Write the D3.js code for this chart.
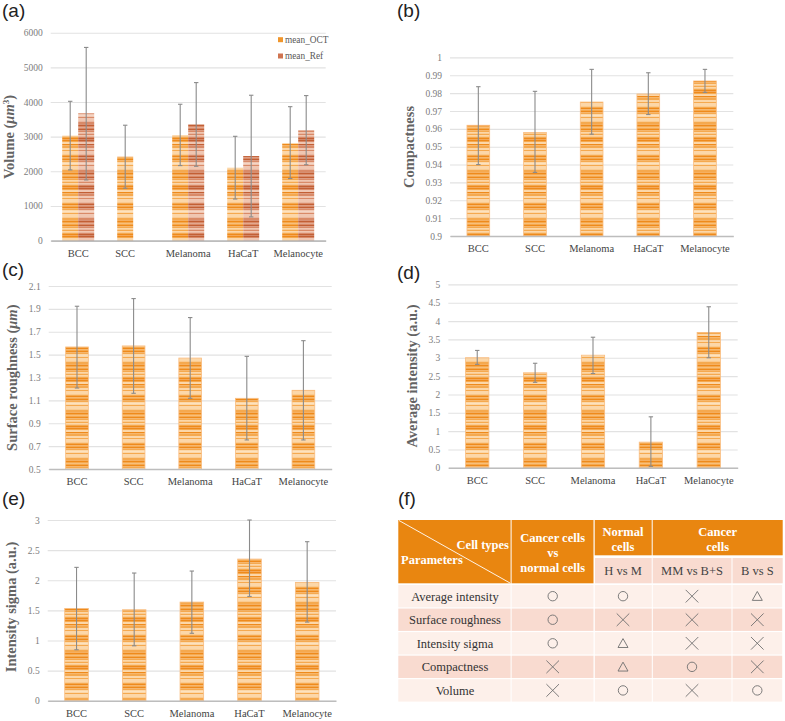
<!DOCTYPE html>
<html>
<head>
<meta charset="utf-8">
<title>Cell parameters</title>
<script src="https://cdn.jsdelivr.net/npm/d3@7"></script>
<style>
	html, body { margin: 0; padding: 0; background: #fff; }
	svg { display: block; }
	text { font-family: "Liberation Serif", serif; }
</style>
</head>
<body>
<svg id="chart" width="785" height="721"></svg>
<script>
const categories = ['BCC', 'SCC', 'Melanoma', 'HaCaT', 'Melanocyte'];

// (a) volume, two series, SCC has no reference value
const volumeOct = [3030, 2420, 3045, 2105, 2815];
const volumeOctHigh = [4020, 3330, 3935, 3010, 3865];
const volumeOctLow = [2040, 1510, 2165, 1200, 1790];
const volumeRef = [3675, null, 3355, 2440, 3185];
const volumeRefHigh = [5575, null, 4560, 4195, 4185];
const volumeRefLow = [1750, null, 2145, 685, 2190];
const volumeTicks = [0, 1000, 2000, 3000, 4000, 5000, 6000];

// (b)
const compactness = [0.962, 0.958, 0.975, 0.9795, 0.9868];
const compactnessHigh = [0.9836, 0.981, 0.9933, 0.9914, 0.9933];
const compactnessLow = [0.94, 0.9356, 0.957, 0.968, 0.9804];
const compactnessTicks = [0.9, 0.91, 0.92, 0.93, 0.94, 0.95, 0.96, 0.97, 0.98, 0.99, 1];

// (c)
const roughness = [1.567, 1.576, 1.47, 1.118, 1.188];
const roughnessHigh = [1.923, 1.99, 1.824, 1.485, 1.622];
const roughnessLow = [1.208, 1.162, 1.118, 0.754, 0.754];
const roughnessTicks = [0.5, 0.7, 0.9, 1.1, 1.3, 1.5, 1.7, 1.9, 2.1];

// (d)
const intensity = [3.0, 2.59, 3.07, 0.7, 3.69];
const intensityHigh = [3.2, 2.85, 3.56, 1.39, 4.39];
const intensityLow = [2.82, 2.33, 2.57, 0.04, 3.0];
const intensityTicks = [0, 0.5, 1, 1.5, 2, 2.5, 3, 3.5, 4, 4.5, 5];

// (e)
const sigma = [1.533, 1.51, 1.638, 2.352, 1.965];
const sigmaHigh = [2.214, 2.12, 2.153, 3.0, 2.64];
const sigmaLow = [0.847, 0.913, 1.12, 1.732, 1.306];
const sigmaTicks = [0, 0.5, 1, 1.5, 2, 2.5, 3];

// (f) o = circle, x = cross, t = triangle
const tableParameters = ['Average intensity', 'Surface roughness', 'Intensity sigma', 'Compactness', 'Volume'];
const tableColumns = ['Cancer vs normal', 'H vs M', 'MM vs B+S', 'B vs S'];
const tableMarks = [
	['o', 'o', 'x', 't'],
	['o', 'x', 'x', 'x'],
	['o', 't', 'x', 'x'],
	['x', 't', 'o', 'x'],
	['x', 'o', 'x', 'o']
];

const svg = d3.select('#chart');
const defs = svg.append('defs');

// stripe rows for the bar fill, 0 = dark, 1 = mid, 2 = pale
const stripeRows = [0, 1, 1, 2, 1, 2, 2, 1, 0, 1, 0, 1, 2, 2, 1, 2, 2, 1, 1, 0, 1, 1, 0, 1, 2, 1, 2, 1, 0, 0, 1, 2];
const stripeHeight = 1.5;

const addStripes = function(id, colors)
{
	const pattern = defs.append('pattern')
		.attr('id', id)
		.attr('patternUnits', 'userSpaceOnUse')
		.attr('width', 4)
		.attr('height', stripeRows.length * stripeHeight);

	pattern.selectAll('rect')
		.data(stripeRows)
		.join('rect')
		.attr('y', (d, i) => i * stripeHeight)
		.attr('width', 4)
		.attr('height', stripeHeight)
		.attr('fill', (d) => colors[d]);
}

addStripes('stripesOct', ['#ee8a1e', '#f5a94f', '#fcd7a8']);
addStripes('stripesRef', ['#c25f36', '#d98a68', '#f0c6b1']);

defs.append('filter')
	.attr('id', 'soft')
	.append('feGaussianBlur')
	.attr('stdDeviation', 0.3);

const drawErrorBars = function(group, x, y, values, highs, lows, offset)
{
	const capHalf = 2.2;
	categories.forEach(function(category, i)
	{
		if(values[i] == null)
		{
			return;
		}

		const cx = x(category) + x.bandwidth() / 2 + offset;
		const g = group.append('g')
			.attr('stroke', '#8b8b8b')
			.attr('stroke-width', 1.1);

		g.append('line').attr('x1', cx).attr('x2', cx).attr('y1', y(highs[i])).attr('y2', y(lows[i]));
		g.append('line').attr('x1', cx - capHalf).attr('x2', cx + capHalf).attr('y1', y(highs[i])).attr('y2', y(highs[i]));
		g.append('line').attr('x1', cx - capHalf).attr('x2', cx + capHalf).attr('y1', y(lows[i])).attr('y2', y(lows[i]));
	});
}

const drawPanel = function(panel)
{
	const y = d3.scaleLinear().domain(panel.domain).range([panel.bottom, panel.top]);
	const x = d3.scaleBand().domain(categories).range([panel.left, panel.right]);
	const group = svg.append('g');

	// grid and tick labels
	const yAxis = group.append('g')
		.attr('transform', `translate(${panel.left},0)`)
		.call(d3.axisLeft(y)
			.tickValues(panel.ticks)
			.tickFormat((d) => String(+d.toFixed(2)))
			.tickSize(-(panel.right - panel.left))
			.tickPadding(8));
	yAxis.select('.domain').remove();
	yAxis.selectAll('line').attr('stroke', '#e2e2e2').attr('stroke-width', 1.1);
	yAxis.selectAll('text')
		.attr('fill', '#7c7c7c')
		.style('font-size', '9.5px');

	// one or two bars per category
	panel.series.forEach(function(series, s)
	{
		const width = panel.barWidth;
		const offset = panel.series.length == 2 ? (s == 0 ? -width : 0) : -width / 2;

		group.selectAll(null)
			.data(categories.filter((c, i) => series.values[i] != null))
			.join('rect')
			.attr('x', (c) => x(c) + x.bandwidth() / 2 + offset)
			.attr('y', (c) => y(series.values[categories.indexOf(c)]))
			.attr('width', width)
			.attr('height', (c) => panel.bottom - y(series.values[categories.indexOf(c)]))
			.attr('fill', `url(#${series.fill})`)
			.attr('filter', 'url(#soft)')
			.attr('stroke', panel.series.length == 2 ? 'none' : '#f9bd80')
			.attr('stroke-width', 0.8);
	});

	// baseline and category labels
	const xAxis = group.append('g')
		.attr('transform', `translate(0,${panel.bottom})`)
		.call(d3.axisBottom(x).tickSize(0).tickPadding(panel.labelGap));
	xAxis.select('.domain').attr('stroke', '#bdbdbd').attr('stroke-width', 1.6);
	xAxis.selectAll('text')
		.attr('fill', '#444')
		.style('font-size', '10.5px');

	// a category with only the first series is labelled under that bar
	if(panel.series.length == 2)
	{
		xAxis.selectAll('.tick')
			.attr('transform', function(c)
			{
				const missing = panel.series[1].values[categories.indexOf(c)] == null;
				return `translate(${x(c) + x.bandwidth() / 2 - (missing ? panel.barWidth / 2 : 0)},0)`;
			});
	}

	panel.series.forEach(function(series, s)
	{
		const width = panel.barWidth;
		const offset = panel.series.length == 2 ? (s == 0 ? -width / 2 : width / 2) : 0;
		drawErrorBars(group, x, y, series.values, series.high, series.low, offset);
	});

	// axis title
	const title = group.append('text')
		.attr('transform', `translate(${panel.titleX},${panel.titleY}) rotate(-90)`)
		.attr('text-anchor', 'middle')
		.attr('fill', '#636363')
		.style('font-size', '14.5px')
		.style('font-weight', 'bold');
	panel.title.forEach(function(part)
	{
		title.append('tspan')
			.text(part.text)
			.style('font-style', part.italic ? 'italic' : 'normal')
			.style('font-size', part.sup ? '9px' : null)
			.attr('dy', part.sup ? -5 : (part.afterSup ? 5 : null));
	});

	group.append('text')
		.attr('x', panel.tagX)
		.attr('y', panel.tagY)
		.attr('fill', '#222')
		.style('font-family', '"Liberation Sans", sans-serif')
		.style('font-size', '19px')
		.text(panel.tag);
}

const panels = [
	{
		tag: '(a)', tagX: 2, tagY: 17,
		left: 50.7, right: 325.7, top: 32.7, bottom: 240.6, barWidth: 16, labelGap: 9,
		domain: [0, 6000], ticks: volumeTicks,
		titleX: 13.5, titleY: 137,
		title: [{text: 'Volume ('}, {text: 'μm', italic: true}, {text: '3', sup: true}, {text: ')', afterSup: true}],
		series: [
			{values: volumeOct, high: volumeOctHigh, low: volumeOctLow, fill: 'stripesOct'},
			{values: volumeRef, high: volumeRefHigh, low: volumeRefLow, fill: 'stripesRef'}
		]
	},
	{
		tag: '(b)', tagX: 397, tagY: 17,
		left: 450, right: 733.3, top: 57.4, bottom: 236, barWidth: 22.7, labelGap: 9,
		domain: [0.9, 1], ticks: compactnessTicks,
		titleX: 414, titleY: 147,
		title: [{text: 'Compactness'}],
		series: [{values: compactness, high: compactnessHigh, low: compactnessLow, fill: 'stripesOct'}]
	},
	{
		tag: '(c)', tagX: 2, tagY: 276,
		left: 48.7, right: 331.7, top: 286, bottom: 469, barWidth: 22.7, labelGap: 9,
		domain: [0.5, 2.1], ticks: roughnessTicks,
		titleX: 17, titleY: 377.7,
		title: [{text: 'Surface roughness ('}, {text: 'μm', italic: true}, {text: ')'}],
		series: [{values: roughness, high: roughnessHigh, low: roughnessLow, fill: 'stripesOct'}]
	},
	{
		tag: '(d)', tagX: 397, tagY: 279,
		left: 448.3, right: 737.7, top: 284.4, bottom: 467.8, barWidth: 23.3, labelGap: 9,
		domain: [0, 5], ticks: intensityTicks,
		titleX: 417, titleY: 376,
		title: [{text: 'Average intensity (a.u.)'}],
		series: [{values: intensity, high: intensityHigh, low: intensityLow, fill: 'stripesOct'}]
	},
	{
		tag: '(e)', tagX: 2, tagY: 505,
		left: 47.7, right: 336, top: 520, bottom: 700.8, barWidth: 23.6, labelGap: 9,
		domain: [0, 3], ticks: sigmaTicks,
		titleX: 16, titleY: 607,
		title: [{text: 'Intensity sigma (a.u.)'}],
		series: [{values: sigma, high: sigmaHigh, low: sigmaLow, fill: 'stripesOct'}]
	}
];

panels.forEach(drawPanel);

// legend of panel (a)
const legendNames = ['mean_OCT', 'mean_Ref'];
const legendY = d3.scalePoint().domain(legendNames).range([39.7, 56]);
const legend = svg.append('g');
legend.selectAll('rect')
	.data(legendNames)
	.join('rect')
	.attr('x', 278)
	.attr('y', (d) => legendY(d) - 2.5)
	.attr('width', 5)
	.attr('height', 5)
	.attr('fill', (d, i) => ['#f0962c', '#cf7450'][i]);
legend.selectAll('text')
	.data(legendNames)
	.join('text')
	.attr('x', 285)
	.attr('y', (d) => legendY(d) + 3)
	.attr('fill', '#595959')
	.style('font-size', '9.3px')
	.text((d) => d);

// table (f)
const drawTable = function()
{
	const table = svg.append('g');
	const headColor = '#e98610';
	const paleRow = '#fdf0ea';
	const darkRow = '#f9dbd0';

	const columnEdges = [511.3, 594.3, 652.3, 732, 782.7];
	const columnCenter = d3.scaleOrdinal().domain(tableColumns).range([552.7, 623, 692, 757.3]);
	const rowBand = d3.scaleBand().domain(tableParameters).range([585, 701.6]).paddingInner(0.05);

	const block = function(x0, y0, x1, y1, fill)
	{
		table.append('rect')
			.attr('x', x0).attr('y', y0)
			.attr('width', x1 - x0).attr('height', y1 - y0)
			.attr('fill', fill);
	}

	const label = function(x, y, text, fill, weight, anchor)
	{
		table.append('text')
			.attr('x', x).attr('y', y)
			.attr('dy', '0.35em')
			.attr('text-anchor', anchor || 'middle')
			.attr('fill', fill)
			.style('font-size', '12.5px')
			.style('font-weight', weight)
			.text(text);
	}

	// header
	block(398.3, 520, 510.6, 583.3, headColor);
	block(511.6, 520, 593.5, 583.3, headColor);
	block(594.7, 520, 651.7, 555.3, headColor);
	block(652.7, 520, 782.7, 555.3, headColor);
	block(595, 558, 651.7, 583.3, darkRow);
	block(652.7, 558, 731.5, 583.3, darkRow);
	block(732.5, 558, 782.7, 583.3, darkRow);

	table.append('line')
		.attr('x1', 399).attr('y1', 520.5)
		.attr('x2', 510).attr('y2', 583)
		.attr('stroke', '#fff')
		.attr('stroke-width', 0.9);

	label(509, 545, 'Cell types', '#fff', 'bold', 'end');
	label(401, 560, 'Parameters', '#fff', 'bold', 'start');
	label(552.7, 537.3, 'Cancer cells', '#fff', 'bold');
	label(552.7, 552.6, 'vs', '#fff', 'bold');
	label(552.7, 567.2, 'normal cells', '#fff', 'bold');
	label(623, 531.3, 'Normal', '#fff', 'bold');
	label(623, 546.3, 'cells', '#fff', 'bold');
	label(717.7, 531.3, 'Cancer', '#fff', 'bold');
	label(717.7, 546.3, 'cells', '#fff', 'bold');
	tableColumns.slice(1).forEach((c) => label(columnCenter(c), 571, c, '#444', 'normal'));

	// body rows
	tableParameters.forEach(function(parameter, r)
	{
		const y0 = rowBand(parameter);
		const y1 = y0 + rowBand.bandwidth();
		const fill = r % 2 == 0 ? paleRow : darkRow;
		const cy = y0 + rowBand.bandwidth() / 2;

		block(398.3, y0, 510.6, y1, fill);
		block(511.6, y0, 593.5, y1, fill);
		columnEdges.slice(1, -1).forEach(function(edge, c)
		{
			block(columnEdges[c + 1] + 0.5, y0, columnEdges[c + 2] - 0.5, y1, fill);
		});
		label(455, cy, parameter, '#333', 'normal');

		tableColumns.forEach(function(column, c)
		{
			const mark = table.append('g')
				.attr('transform', `translate(${columnCenter(column)},${cy})`)
				.attr('fill', 'none')
				.attr('stroke', '#6f6f6f')
				.attr('stroke-width', 0.9);

			if(tableMarks[r][c] == 'o')
			{
				mark.append('circle').attr('r', 4.7);
			}
			else if(tableMarks[r][c] == 'x')
			{
				mark.append('path').attr('d', 'M-6.3,-6.3L6.3,6.3M-6.3,6.3L6.3,-6.3');
			}
			else
			{
				mark.append('path').attr('d', 'M0,-4.7L5,4.2L-5,4.2Z');
			}
		});
	});

	table.append('text')
		.attr('x', 398)
		.attr('y', 505)
		.attr('fill', '#222')
		.style('font-family', '"Liberation Sans", sans-serif')
		.style('font-size', '19px')
		.text('(f)');
}

drawTable();
</script>
</body>
</html>
